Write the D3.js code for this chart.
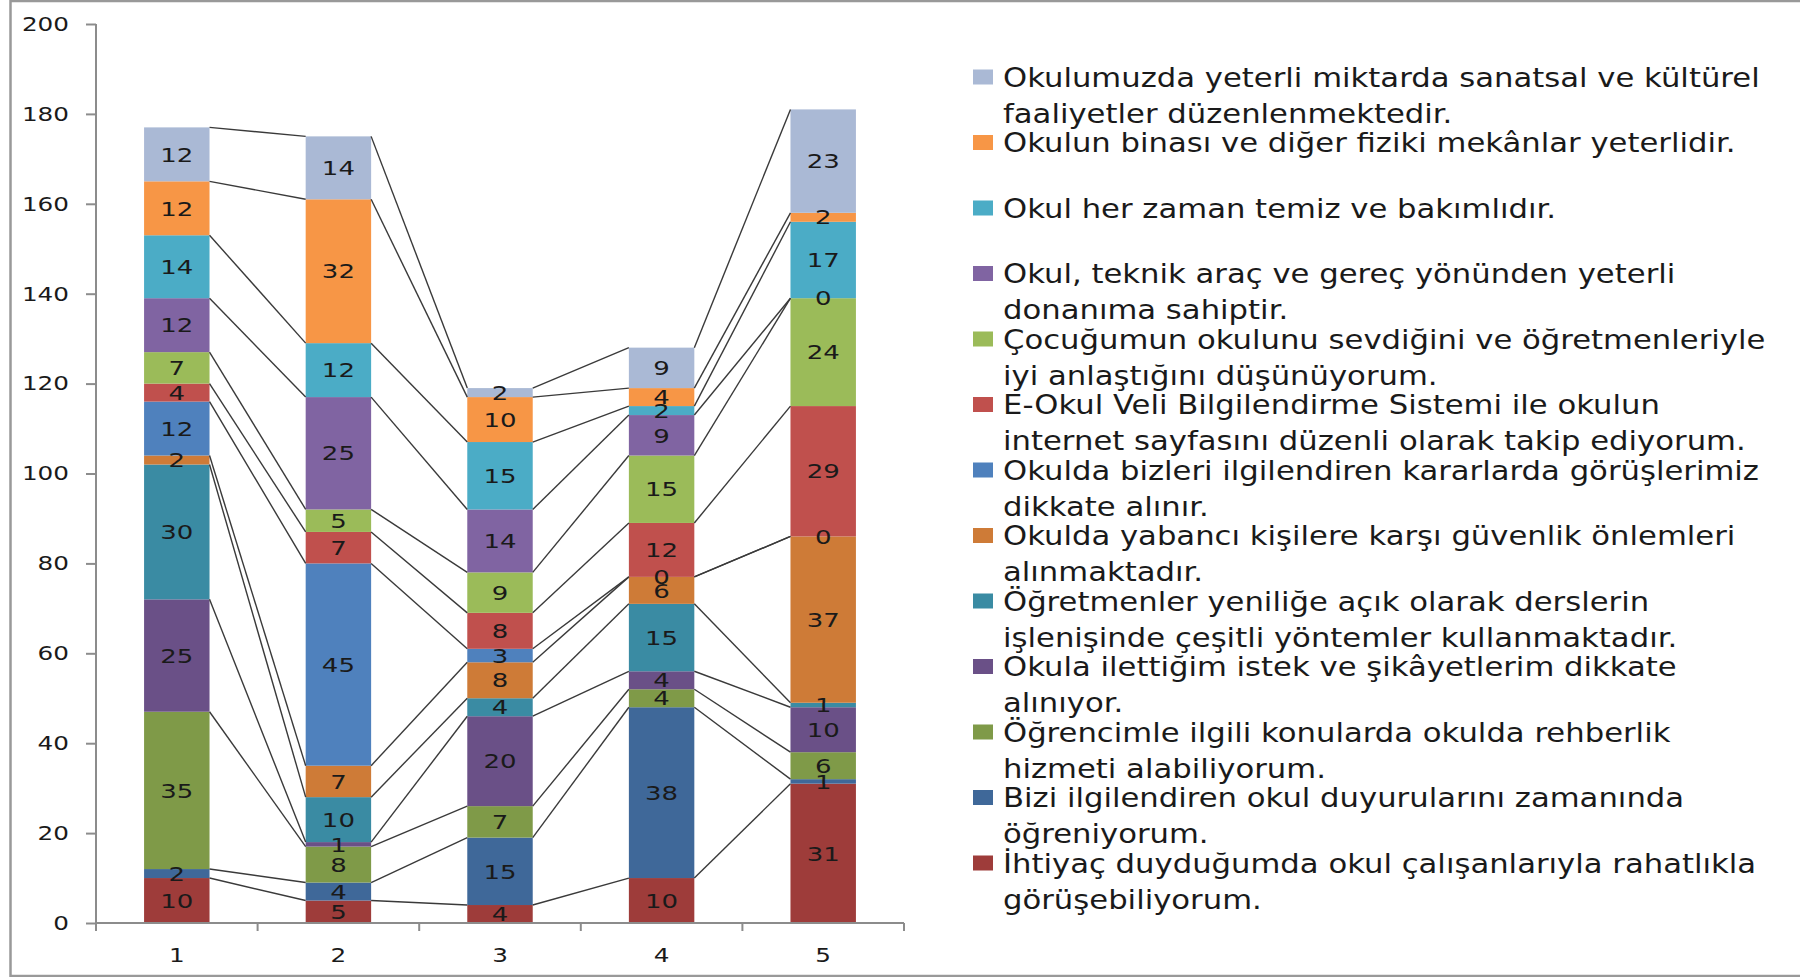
<!DOCTYPE html>
<html>
<head>
<meta charset="utf-8">
<script src="https://cdn.jsdelivr.net/npm/d3@7"></script>
<style>
  html, body { margin: 0; padding: 0; background: #fff; }
  svg { display: block; }
  text { font-family: "DejaVu Sans", Verdana, sans-serif; fill: #1a1a1a; }
</style>
</head>
<body>
<div id="chart"></div>
<script>
// categories on the x axis
var categories = ["1", "2", "3", "4", "5"];

// series, bottom of the stack first
var seriesNames = [
  "İhtiyaç duyduğumda okul çalışanlarıyla rahatlıkla\ngörüşebiliyorum.",
  "Bizi ilgilendiren okul duyurularını zamanında\nöğreniyorum.",
  "Öğrencimle ilgili konularda okulda rehberlik\nhizmeti alabiliyorum.",
  "Okula ilettiğim istek ve şikâyetlerim dikkate\nalınıyor.",
  "Öğretmenler yeniliğe açık olarak derslerin\nişlenişinde çeşitli yöntemler kullanmaktadır.",
  "Okulda yabancı kişilere karşı güvenlik önlemleri\nalınmaktadır.",
  "Okulda bizleri ilgilendiren kararlarda görüşlerimiz\ndikkate alınır.",
  "E-Okul Veli Bilgilendirme Sistemi ile okulun\ninternet sayfasını düzenli olarak takip ediyorum.",
  "Çocuğumun okulunu sevdiğini ve öğretmenleriyle\niyi anlaştığını düşünüyorum.",
  "Okul, teknik araç ve gereç yönünden yeterli\ndonanıma sahiptir.",
  "Okul her zaman temiz ve bakımlıdır.",
  "Okulun binası ve diğer fiziki mekânlar yeterlidir.",
  "Okulumuzda yeterli miktarda sanatsal ve kültürel\nfaaliyetler düzenlenmektedir."
];

var s1 = [10, 5, 4, 10, 31];
var s2 = [2, 4, 15, 38, 1];
var s3 = [35, 8, 7, 4, 6];
var s4 = [25, 1, 20, 4, 10];
var s5 = [30, 10, 4, 15, 1];
var s6 = [2, 7, 8, 6, 37];
var s7 = [12, 45, 3, 0, 0];
var s8 = [4, 7, 8, 12, 29];
var s9 = [7, 5, 9, 15, 24];
var s10 = [12, 25, 14, 9, 0];
var s11 = [14, 12, 15, 2, 17];
var s12 = [12, 32, 10, 4, 2];
var s13 = [12, 14, 2, 9, 23];
var seriesValues = [s1, s2, s3, s4, s5, s6, s7, s8, s9, s10, s11, s12, s13];

var colors = ["#9E3C3A", "#3F6899", "#7F9A48", "#6A5087", "#3A8BA3", "#CE7B37",
              "#4F81BD", "#C0504D", "#9BBB59", "#8064A2", "#4BACC6", "#F79646", "#AAB9D5"];

var yTicks = [0, 20, 40, 60, 80, 100, 120, 140, 160, 180, 200];

var width = 1800, height = 977;
var svg = d3.select("#chart").append("svg")
    .attr("width", width)
    .attr("height", height);

// outer frame (right edge is cut off in the original)
svg.append("rect")
    .attr("x", 10.5).attr("y", 1)
    .attr("width", 1820).attr("height", 975)
    .attr("fill", "none")
    .attr("stroke", "#999")
    .attr("stroke-width", 2.5);

var x = d3.scaleBand().domain(categories).range([96, 904]).paddingInner(0.595).paddingOuter(0.2975);
var y = d3.scaleLinear().domain([0, 200]).range([923, 24]);

// stack the rows
var rows = categories.map(function (c, i) {
  var r = { cat: c };
  seriesValues.forEach(function (s, k) { r["s" + k] = s[i]; });
  return r;
});
var keys = seriesValues.map(function (s, k) { return "s" + k; });
var stacked = d3.stack().keys(keys)(rows);

var axisColor = "#8c8c8c";
var sxNum = 1.3;

// bars
var g = svg.append("g");
stacked.forEach(function (layer, k) {
  g.selectAll(null)
    .data(layer)
    .enter().append("rect")
    .attr("x", function (d) { return x(d.data.cat); })
    .attr("y", function (d) { return y(d[1]); })
    .attr("width", x.bandwidth())
    .attr("height", function (d) { return y(d[0]) - y(d[1]); })
    .attr("fill", colors[k]);
});

// series lines between the bars
stacked.forEach(function (layer) {
  for (var i = 0; i < layer.length - 1; i++) {
    svg.append("line")
      .attr("x1", x(categories[i]) + x.bandwidth())
      .attr("y1", y(layer[i][1]))
      .attr("x2", x(categories[i + 1]))
      .attr("y2", y(layer[i + 1][1]))
      .attr("stroke", "#3a3a3a")
      .attr("stroke-width", 1.4);
  }
});

// data labels
stacked.forEach(function (layer) {
  svg.selectAll(null)
    .data(layer)
    .enter().append("text")
    .attr("transform", function (d) {
      var cx = x(d.data.cat) + x.bandwidth() / 2;
      var cy = (y(d[0]) + y(d[1])) / 2;
      return "translate(" + cx + "," + cy + ") scale(" + sxNum + ",1)";
    })
    .attr("text-anchor", "middle")
    .attr("dy", "0.36em")
    .attr("font-size", 20)
    .text(function (d) { return d[1] - d[0]; });
});

// y axis
var yAxis = svg.append("g").attr("transform", "translate(96,0)")
    .call(d3.axisLeft(y).tickValues(yTicks).tickSize(10).tickPadding(0).tickFormat(function () { return ""; }));
yAxis.selectAll("line, path").attr("stroke", axisColor).attr("stroke-width", 2);
yAxis.select("path").attr("d", "M0," + y(200) + "V" + y(0));

svg.selectAll(null)
  .data(yTicks)
  .enter().append("text")
  .attr("transform", function (d) { return "translate(69," + y(d) + ") scale(" + sxNum + ",1)"; })
  .attr("text-anchor", "end")
  .attr("dy", "0.36em")
  .attr("font-size", 19)
  .text(function (d) { return d; });

// x axis
var xAxisG = svg.append("g");
xAxisG.append("line")
  .attr("x1", 96).attr("x2", 904)
  .attr("y1", y(0)).attr("y2", y(0))
  .attr("stroke", axisColor).attr("stroke-width", 2);
var bounds = d3.range(categories.length + 1).map(function (i) { return 96 + i * (808 / categories.length); });
xAxisG.selectAll(null)
  .data(bounds)
  .enter().append("line")
  .attr("x1", function (d) { return d; }).attr("x2", function (d) { return d; })
  .attr("y1", y(0)).attr("y2", y(0) + 8)
  .attr("stroke", axisColor).attr("stroke-width", 2);

svg.selectAll(null)
  .data(categories)
  .enter().append("text")
  .attr("transform", function (d) { return "translate(" + (x(d) + x.bandwidth() / 2) + ",955) scale(" + sxNum + ",1)"; })
  .attr("text-anchor", "middle")
  .attr("dy", "0.36em")
  .attr("font-size", 19)
  .text(function (d) { return d; });

// legend, top entry is the last series
var legend = svg.append("g");
var legendOrder = d3.range(seriesNames.length).reverse();
var legendTexts = [];
legendOrder.forEach(function (k, i) {
  var cy = 77 + i * 65.5;
  legend.append("rect")
    .attr("x", 973).attr("y", cy - 7.5)
    .attr("width", 20).attr("height", 15)
    .attr("fill", colors[k]);
  seriesNames[k].split("\n").forEach(function (line, j) {
    var t = legend.append("text")
      .attr("data-y", cy + j * 36)
      .attr("dy", "0.36em")
      .attr("font-size", 27)
      .text(line);
    legendTexts.push(t);
  });
});
// the legend text is stretched sideways; fit the first line to its width in the picture
var firstW = legendTexts[0].node().getComputedTextLength();
var sxLeg = 757 / firstW;
legendTexts.forEach(function (t) {
  t.attr("transform", "translate(1003," + t.attr("data-y") + ") scale(" + sxLeg + ",1)");
});
</script>
</body>
</html>
